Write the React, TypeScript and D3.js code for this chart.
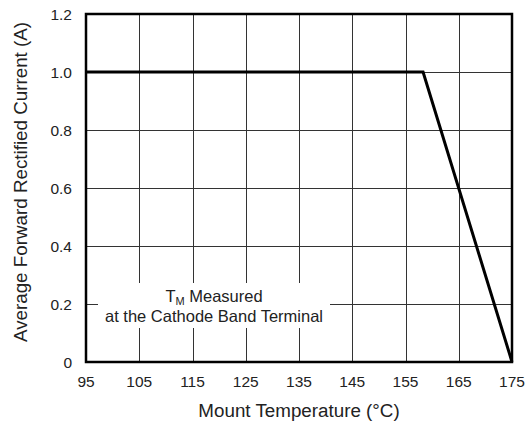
import { useEffect, useRef } from 'react';
import * as d3 from 'd3';

// Derating curve: temperature (°C) vs average forward rectified current (A)
const temps = [95, 158.3, 175];
const currents = [1.0, 1.0, 0];
const xTicks = [95, 105, 115, 125, 135, 145, 155, 165, 175];
const yTicks = [0, 0.2, 0.4, 0.6, 0.8, 1.0, 1.2];
const noteLines = ['Measured', 'at the Cathode Band Terminal'];

const App = () => {
  const ref = useRef<SVGSVGElement>(null);
  const width = 527;
  const height = 421;
  const marginTop = 14;
  const marginRight = 15;
  const marginBottom = 59;
  const marginLeft = 86;
  const font = '"Liberation Sans", Arial, sans-serif';

  useEffect(() => {
    const svg = d3.select(ref.current);
    svg.selectAll('*').remove();

    const x = d3.scaleLinear().domain([95, 175]).range([marginLeft, width - marginRight]);
    const y = d3.scaleLinear().domain([0, 1.2]).range([height - marginBottom, marginTop]);

    // grid
    const grid = svg.append('g').attr('stroke', '#333').attr('stroke-width', 1);
    grid.selectAll('line.v')
      .data(xTicks.slice(1, -1))
      .join('line')
      .attr('x1', d => Math.round(x(d)) + 0.5)
      .attr('x2', d => Math.round(x(d)) + 0.5)
      .attr('y1', y(0))
      .attr('y2', y(1.2));
    grid.selectAll('line.h')
      .data(yTicks.slice(1, -1))
      .join('line')
      .attr('x1', x(95))
      .attr('x2', x(175))
      .attr('y1', d => Math.round(y(d)) + 0.5)
      .attr('y2', d => Math.round(y(d)) + 0.5);

    // note box
    svg.append('rect')
      .attr('x', 98)
      .attr('y', 283)
      .attr('width', 232)
      .attr('height', 45)
      .attr('fill', '#fff');

    const note = svg.append('text')
      .attr('font-family', font)
      .attr('font-size', 16.5)
      .attr('fill', '#222')
      .attr('text-anchor', 'middle');
    const l1 = note.append('tspan').attr('x', 214).attr('y', 302);
    l1.append('tspan').text('T');
    l1.append('tspan').attr('font-size', 11).attr('dy', 3).text('M');
    l1.append('tspan').attr('dy', -3).text(' ' + noteLines[0]);
    note.append('tspan').attr('x', 214).attr('y', 322).text(noteLines[1]);

    // frame
    svg.append('rect')
      .attr('x', x(95))
      .attr('y', y(1.2))
      .attr('width', x(175) - x(95))
      .attr('height', y(0) - y(1.2))
      .attr('fill', 'none')
      .attr('stroke', '#000')
      .attr('stroke-width', 2.5);

    // data line
    const line = d3.line<number>()
      .x((_, i) => x(temps[i]))
      .y(d => y(d));
    svg.append('path')
      .datum(currents)
      .attr('d', line)
      .attr('fill', 'none')
      .attr('stroke', '#000')
      .attr('stroke-width', 3)
      .attr('stroke-linejoin', 'miter');

    // axes labels
    svg.append('g')
      .selectAll('text')
      .data(xTicks)
      .join('text')
      .attr('x', d => x(d))
      .attr('y', height - marginBottom + 25)
      .attr('text-anchor', 'middle')
      .attr('font-family', font)
      .attr('font-size', 15.5)
      .attr('fill', '#222')
      .text(d => d);

    svg.append('g')
      .selectAll('text')
      .data(yTicks)
      .join('text')
      .attr('x', marginLeft - 14)
      .attr('y', d => y(d) + 5.5)
      .attr('text-anchor', 'end')
      .attr('font-family', font)
      .attr('font-size', 15.5)
      .attr('fill', '#222')
      .text(d => (d === 0 ? '0' : d.toFixed(1)));

    svg.append('text')
      .attr('x', (marginLeft + width - marginRight) / 2)
      .attr('y', 417)
      .attr('text-anchor', 'middle')
      .attr('font-family', font)
      .attr('font-size', 18.8)
      .attr('fill', '#222')
      .text('Mount Temperature (°C)');

    svg.append('text')
      .attr('transform', `translate(27,182) rotate(-90)`)
      .attr('text-anchor', 'middle')
      .attr('font-family', font)
      .attr('font-size', 18.8)
      .attr('fill', '#222')
      .text('Average Forward Rectified Current (A)');
  }, []);

  return (
    <svg
      ref={ref}
      width={width}
      height={height}
      viewBox={`0 0 ${width} ${height}`}
      style={{ position: 'absolute', left: 0, top: 0, background: '#fff' }}
    />
  );
};

export default App;
